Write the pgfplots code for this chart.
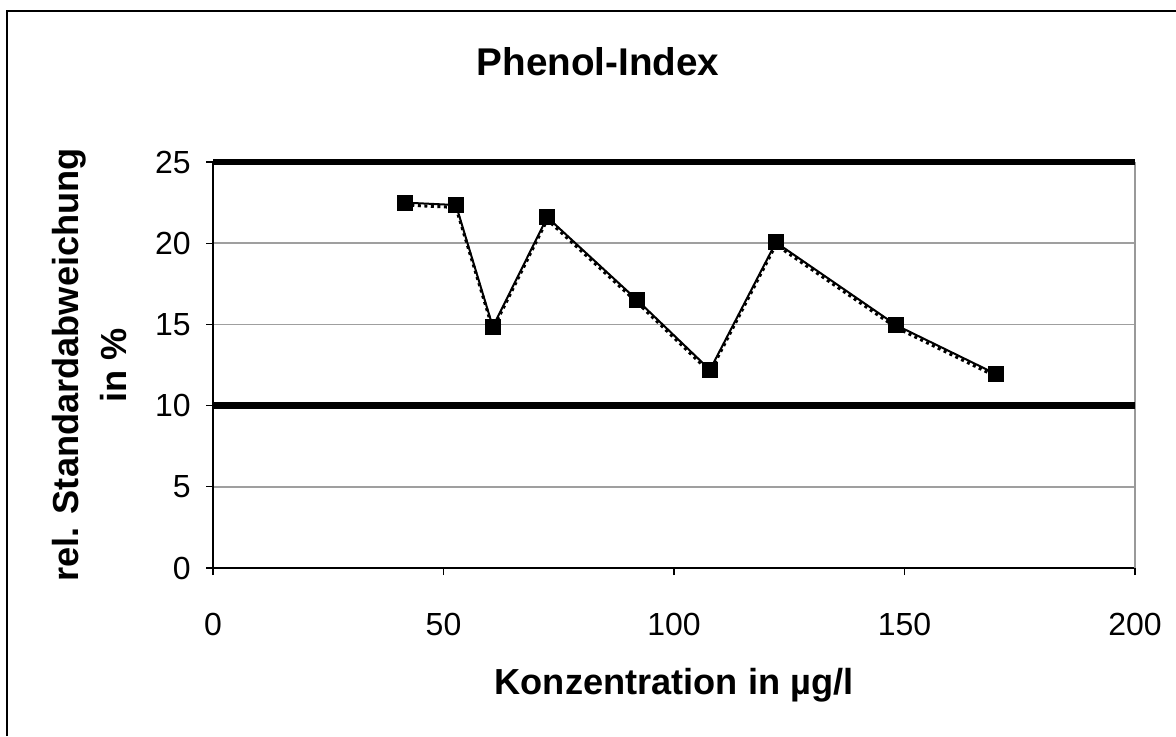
\documentclass[border=0pt]{standalone}
\usepackage{fontspec}
\setmainfont{Liberation Sans}
\usepackage{pgfplots}
\pgfplotsset{compat=1.18}
\begin{document}
\begin{tikzpicture}
\path[use as bounding box] (0,0) rectangle (117.6mm,73.6mm);
\draw[line width=0.2mm] (0.7mm,0) -- (0.7mm,72.5mm) -- (117.6mm,72.5mm);
\node[font=\fontsize{11}{13}\selectfont\bfseries] at (59.8mm,67.4mm) {Phenol-Index};
\begin{axis}[
  at={(21.3mm,16.8mm)}, anchor=south west,
  scale only axis, width=92.2mm, height=40.6mm,
  xmin=0, xmax=200, ymin=0, ymax=25,
  xtick={0,50,...,200}, ytick={0,5,...,25},
  axis x line*=bottom, axis y line*=left,
  axis line style={black, line width=0.2mm, -},
  ymajorgrids, grid style={gray!75, line width=0.15mm},
  tick align=outside, major tick length=0.7mm,
  tick style={black, line width=0.12mm},
  clip=false,
  /pgf/number format/assume math mode=true,
  ticklabel style={font=\fontsize{9.1}{10}\selectfont},
  xticklabel style={yshift=-2.6mm},
  yticklabel style={xshift=-0.3mm},
  xlabel={Konzentration in µg/l},
  ylabel={rel. Standardabweichung\\in \%},
  label style={font=\fontsize{10.3}{13.7}\selectfont\bfseries, align=center},
  xlabel style={at={(axis description cs:0.5,-0.288)}, anchor=center},
  ylabel style={at={(axis description cs:-0.134,0.5)}, anchor=center},
]
\draw[gray!80, line width=0.2mm] (axis cs:200,0) -- (axis cs:200,25);
\addplot[black, line width=0.65mm, forget plot] coordinates {(0,25) (200,25)};
\addplot[black, line width=0.65mm, forget plot] coordinates {(0,10) (200,10)};
\addplot[black, densely dotted, line width=0.3mm, forget plot] coordinates {
(41.6,22.35) (52.7,22.2) (60.7,14.7) (72.5,21.45) (92.0,16.35) (107.8,12.05) (122.1,19.9) (148.2,14.8) (169.8,11.8)};
\addplot[black, line width=0.2mm, mark=square*, mark size=0.7mm] coordinates {
(41.6,22.5) (52.7,22.35) (60.7,14.85) (72.5,21.6) (92.0,16.5) (107.8,12.2) (122.1,20.05) (148.2,14.95) (169.8,11.95)};
\end{axis}
\end{tikzpicture}
\end{document}
